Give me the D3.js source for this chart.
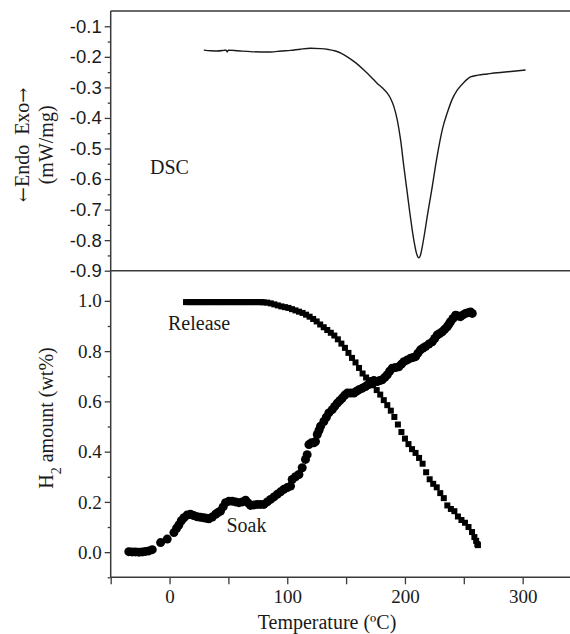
<!DOCTYPE html>
<html>
<head>
<meta charset="utf-8">
<script src="https://cdn.jsdelivr.net/npm/d3@7"></script>
<style>
  html, body { margin: 0; padding: 0; background: #fff; }
  svg { display: block; }
  .serif { font-family: "Liberation Serif", "Times New Roman", serif; }
  .sans { font-family: "Liberation Sans", Arial, sans-serif; }
</style>
</head>
<body>
<div id="chart"></div>
<script>
// DSC trace: [temperature (C), heat flow (mW/mg)]
const dscCurve = [
  [29.1, -0.178], [35, -0.180], [40, -0.181], [46, -0.179], [48, -0.178], [49, -0.184],
  [50, -0.178], [58, -0.180], [68.8, -0.183], [78, -0.184], [85.8, -0.184], [95, -0.181],
  [102.8, -0.179], [111, -0.175], [119.8, -0.172], [128.3, -0.173], [135, -0.176],
  [141, -0.181], [146, -0.189], [151, -0.200], [158, -0.219], [165.1, -0.243],
  [171, -0.265], [176.5, -0.287], [181, -0.302], [185, -0.319], [188, -0.338],
  [190.6, -0.363], [193.5, -0.407], [196.3, -0.472], [199.1, -0.560], [202, -0.646],
  [204.2, -0.712], [206.2, -0.767], [208, -0.810], [209.6, -0.840], [211.8, -0.858],
  [213.3, -0.848], [214.7, -0.822], [216.8, -0.775], [218.9, -0.723], [221, -0.675],
  [223.2, -0.625], [226, -0.556], [228.8, -0.494], [232, -0.434], [235.9, -0.384],
  [240, -0.340], [244.4, -0.309], [250, -0.284], [255.7, -0.266], [262, -0.260],
  [270, -0.256], [278.4, -0.252], [290, -0.248], [302.5, -0.243]
];

// H2 release (squares): [temperature, wt%]
const releasePoints = [
  [14, 0.995], [16, 0.995], [18, 0.995], [20, 0.995], [22, 0.995], [24, 0.995],
  [26, 0.995], [28, 0.995], [30, 0.995], [32, 0.995], [34, 0.995], [36, 0.995],
  [38, 0.995], [40, 0.995], [42, 0.995], [44, 0.995], [46, 0.995], [48, 0.995],
  [50, 0.995], [52, 0.995], [54, 0.995], [56, 0.995], [58, 0.995], [60, 0.995],
  [62, 0.995], [64, 0.995], [66, 0.995], [68, 0.995], [70, 0.995], [72, 0.995],
  [74, 0.995], [76, 0.995], [78, 0.995], [80, 0.994],
  [83, 0.993], [86, 0.990], [89, 0.986], [92, 0.982], [95, 0.978], [98, 0.975],
  [101, 0.972], [104, 0.967], [107, 0.962], [110, 0.957], [113, 0.952], [116, 0.945],
  [119, 0.937], [122, 0.928], [125, 0.918], [128, 0.906], [131, 0.895], [134, 0.884],
  [137, 0.873], [140, 0.862], [143, 0.847], [146, 0.830], [149, 0.813], [152, 0.793],
  [155, 0.773], [158, 0.755], [161, 0.733], [164, 0.711], [167, 0.695], [170, 0.680],
  [173, 0.664], [176, 0.645], [179, 0.627], [182, 0.605], [185, 0.585], [188, 0.563],
  [191, 0.538], [194, 0.508], [197, 0.478], [200, 0.452], [203, 0.430], [206, 0.410],
  [209, 0.395], [212, 0.375], [215, 0.352], [218, 0.318], [221, 0.290], [224, 0.272],
  [227, 0.258], [230, 0.235], [233, 0.215], [236, 0.186], [239, 0.172], [242, 0.163],
  [245, 0.142], [248, 0.128], [251, 0.117], [254, 0.100], [257, 0.080], [259, 0.060],
  [260.5, 0.045], [261.5, 0.032], [262, 0.028]
];

// H2 soak (circles): [temperature, wt%]
const soakPoints = [
  [-34.6, 0.002], [-31.8, 0.001], [-28.9, 0.001], [-26, 0.000], [-23.2, 0.001],
  [-20.4, 0.003], [-17.6, 0.005], [-14.7, 0.010], [-7.6, 0.038], [-2, 0.052],
  [3.7, 0.078], [6, 0.095], [7.9, 0.108], [10, 0.125], [12.2, 0.137], [15, 0.148],
  [17.8, 0.151], [20.5, 0.146], [23.5, 0.141], [26.3, 0.139], [29.1, 0.137],
  [31.3, 0.135], [33.4, 0.133], [36.3, 0.140], [39.1, 0.151], [41.2, 0.158],
  [43.3, 0.164], [45.5, 0.180], [47.6, 0.197], [50.5, 0.203], [53.3, 0.203],
  [56.1, 0.200], [58.9, 0.197], [61.8, 0.200], [64.6, 0.207], [66.7, 0.196],
  [68.8, 0.186], [71.7, 0.188], [74.5, 0.190], [77.3, 0.190], [80.1, 0.190],
  [83, 0.200], [85.8, 0.210], [88.7, 0.220], [91.5, 0.230], [94.3, 0.240],
  [97.1, 0.250], [100, 0.257], [102.8, 0.263], [104.2, 0.289], [107, 0.300],
  [109.9, 0.309], [112.7, 0.336], [115.5, 0.369], [116.9, 0.388], [118.4, 0.428],
  [120.5, 0.435], [122.6, 0.435], [124, 0.440], [125.5, 0.468], [127, 0.485],
  [128.3, 0.501], [131.1, 0.520], [133.2, 0.537], [135.3, 0.554], [138.2, 0.567],
  [140.3, 0.580], [142.5, 0.593], [144.6, 0.603], [146.7, 0.613], [148.9, 0.625],
  [151, 0.633], [153.8, 0.633], [156.6, 0.633], [158.7, 0.640], [160.8, 0.646],
  [163.6, 0.652], [166.5, 0.659], [168.6, 0.666], [170.8, 0.679], [173.6, 0.683],
  [176.5, 0.679], [178.6, 0.683], [180.7, 0.686], [183, 0.696], [185, 0.706],
  [187, 0.720], [189.2, 0.732], [192, 0.735], [194.8, 0.738], [197, 0.748],
  [199.1, 0.758], [202, 0.765], [204.8, 0.772], [207, 0.775], [209, 0.778],
  [211, 0.792], [213.2, 0.805], [215.3, 0.812], [217.5, 0.818], [220.3, 0.828],
  [223.2, 0.837], [225.3, 0.850], [227.4, 0.864], [229.5, 0.870], [231.7, 0.877],
  [233.8, 0.887], [235.9, 0.897], [237.3, 0.907], [238.7, 0.917], [240.8, 0.930],
  [243, 0.943], [245.1, 0.940], [247.2, 0.937], [249.3, 0.944], [251.5, 0.950],
  [253.6, 0.953], [255.7, 0.956], [257.2, 0.950]
];

const xDomain = [-50, 350];
const xMajorTicks = [0, 100, 200, 300];
const xMinorTicks = [-50, 50, 150, 250];
const dscDomain = [-0.9, -0.05];
const dscMajorTicks = [-0.9, -0.8, -0.7, -0.6, -0.5, -0.4, -0.3, -0.2, -0.1];
const dscMinorTicks = [-0.85, -0.75, -0.65, -0.55, -0.45, -0.35, -0.25, -0.15];
const h2Domain = [-0.1, 1.12];
const h2MajorTicks = [0.0, 0.2, 0.4, 0.6, 0.8, 1.0];
const h2MinorTicks = [-0.1, 0.1, 0.3, 0.5, 0.7, 0.9];

const width = 570, height = 634;
const left = 110.7, right = 581.5;
const topY = 11, midY = 270.7, bottomY = 577.3;
const ink = '#1a1a1a';
const frame = '#3a3a3a';

const svg = d3.select('#chart').append('svg')
  .attr('width', width)
  .attr('height', height)
  .attr('viewBox', `0 0 ${width} ${height}`);

const x = d3.scaleLinear().domain(xDomain).range([left, right]);
const yTop = d3.scaleLinear().domain(dscDomain).range([midY, topY]);
const yBot = d3.scaleLinear().domain(h2Domain).range([bottomY, midY]);

function styleAxis(g, cls, size) {
  g.select('.domain').remove();
  g.selectAll('.tick line').attr('stroke', frame).attr('stroke-width', 1.3);
  g.selectAll('.tick text')
    .attr('class', cls)
    .attr('fill', ink)
    .style('font-size', size + 'px');
}

// Top panel y axis (DSC)
svg.append('g')
  .attr('transform', `translate(${left},0)`)
  .call(d3.axisLeft(yTop).tickValues(dscMajorTicks).tickSize(6).tickPadding(3)
    .tickFormat(d => d.toFixed(1)))
  .call(g => styleAxis(g, 'sans', 18.5));
svg.append('g')
  .attr('transform', `translate(${left},0)`)
  .call(d3.axisLeft(yTop).tickValues(dscMinorTicks).tickSize(3).tickFormat(''))
  .call(g => styleAxis(g, 'sans', 18));

// Bottom panel y axis (H2 amount)
svg.append('g')
  .attr('transform', `translate(${left},0)`)
  .call(d3.axisLeft(yBot).tickValues(h2MajorTicks).tickSize(6).tickPadding(3)
    .tickFormat(d => d.toFixed(1)))
  .call(g => styleAxis(g, 'serif', 19));
svg.append('g')
  .attr('transform', `translate(${left},0)`)
  .call(d3.axisLeft(yBot).tickValues(h2MinorTicks).tickSize(3).tickFormat(''))
  .call(g => styleAxis(g, 'serif', 19));

// Bottom x axis
svg.append('g')
  .attr('transform', `translate(0,${bottomY})`)
  .call(d3.axisBottom(x).tickValues(xMajorTicks).tickSize(7).tickPadding(5)
    .tickFormat(d3.format('d')))
  .call(g => styleAxis(g, 'serif', 19));
svg.append('g')
  .attr('transform', `translate(0,${bottomY})`)
  .call(d3.axisBottom(x).tickValues(xMinorTicks).tickSize(7).tickFormat(''))
  .call(g => styleAxis(g, 'serif', 19));

// Frame lines
const frameLines = [
  [left, topY, width, topY],
  [left, midY, width, midY],
  [left, bottomY, width, bottomY],
  [left, topY, left, bottomY]
];
svg.append('g').selectAll('line')
  .data(frameLines)
  .join('line')
  .attr('x1', d => d[0]).attr('y1', d => d[1])
  .attr('x2', d => d[2]).attr('y2', d => d[3])
  .attr('stroke', frame)
  .attr('stroke-width', 1.5);

// DSC curve
const dscLine = d3.line()
  .x(d => x(d[0]))
  .y(d => yTop(d[1]))
  .curve(d3.curveMonotoneX);
svg.append('path')
  .datum(dscCurve)
  .attr('d', dscLine)
  .attr('fill', 'none')
  .attr('stroke', ink)
  .attr('stroke-width', 1.4);

// Release squares
const sq = 6;
svg.append('g').selectAll('rect')
  .data(releasePoints)
  .join('rect')
  .attr('x', d => x(d[0]) - sq / 2)
  .attr('y', d => yBot(d[1]) - sq / 2)
  .attr('width', sq)
  .attr('height', sq)
  .attr('fill', '#000');

// Soak circles
svg.append('g').selectAll('circle')
  .data(soakPoints)
  .join('circle')
  .attr('cx', d => x(d[0]))
  .attr('cy', d => yBot(d[1]))
  .attr('r', 4.5)
  .attr('fill', '#000');

// Annotations
const notes = [
  { text: 'DSC', x: 150, y: 174 },
  { text: 'Release', x: 168, y: 330 },
  { text: 'Soak', x: 226.5, y: 532 }
];
svg.append('g').selectAll('text')
  .data(notes)
  .join('text')
  .attr('class', 'serif')
  .attr('x', d => d.x)
  .attr('y', d => d.y)
  .attr('fill', ink)
  .style('font-size', '20px')
  .text(d => d.text);

// Axis titles
svg.append('text')
  .attr('class', 'serif')
  .attr('x', 327)
  .attr('y', 629)
  .attr('text-anchor', 'middle')
  .attr('fill', ink)
  .style('font-size', '20px')
  .text('Temperature (\u00BAC)');

const topMid = (topY + midY) / 2 + 4;
const endoTitle = svg.append('text')
  .attr('class', 'serif')
  .attr('transform', `translate(29,${topMid}) rotate(-90)`)
  .attr('text-anchor', 'middle')
  .attr('fill', ink)
  .style('font-size', '20px')
  .style('white-space', 'pre');
endoTitle.append('tspan').style('font-family', '"DejaVu Serif", serif').style('font-size', '18px').text('\u2190');
endoTitle.append('tspan').text('Endo  Exo');
endoTitle.append('tspan').style('font-family', '"DejaVu Serif", serif').style('font-size', '18px').text('\u2192');
svg.append('text')
  .attr('class', 'serif')
  .attr('transform', `translate(53,${topMid}) rotate(-90)`)
  .attr('text-anchor', 'middle')
  .attr('fill', ink)
  .style('font-size', '20px')
  .text('(mW/mg)');

const h2Title = svg.append('text')
  .attr('class', 'serif')
  .attr('transform', `translate(53,${(midY + bottomY) / 2 - 6}) rotate(-90)`)
  .attr('text-anchor', 'middle')
  .attr('fill', ink)
  .style('font-size', '20px');
h2Title.append('tspan').text('H');
h2Title.append('tspan').attr('baseline-shift', 'sub').style('font-size', '14px').text('2');
h2Title.append('tspan').text(' amount (wt%)');
</script>
</body>
</html>
